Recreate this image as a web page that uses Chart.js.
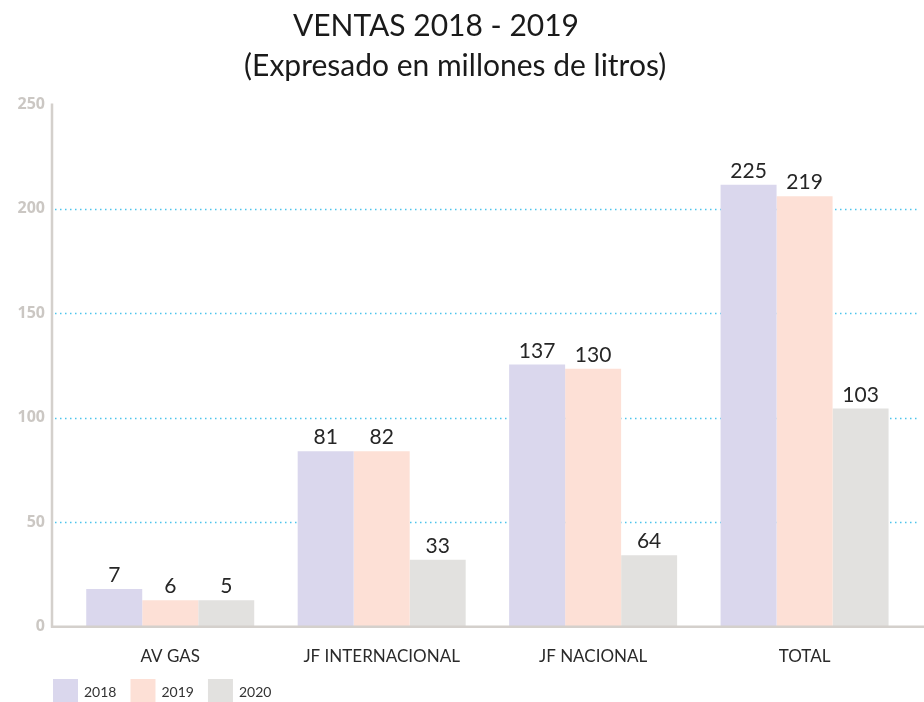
<!DOCTYPE html>
<html>
<head>
<meta charset="utf-8">
<script src="https://cdn.jsdelivr.net/npm/chart.js@4.4.1/dist/chart.umd.min.js"></script>
<style>
  html, body { margin: 0; padding: 0; background: #ffffff; }
  #wrap { width: 924px; height: 702px; }
</style>
</head>
<body>
<div id="wrap"><canvas id="c" width="924" height="702"></canvas></div>
<script>
// ---- data ----
const categories = ['AV GAS', 'JF INTERNACIONAL', 'JF NACIONAL', 'TOTAL'];
const seriesNames = ['2018', '2019', '2020'];
// bar heights as drawn on the value axis
const values2018 = [18, 84, 125.5, 211.5];
const values2019 = [12.7, 84, 123.5, 206];
const values2020 = [12.7, 32, 34.2, 104.4];
// printed value labels above the bars
const labels2018 = ['7', '81', '137', '225'];
const labels2019 = ['6', '82', '130', '219'];
const labels2020 = ['5', '33', '64', '103'];
const yTicks = [0, 50, 100, 150, 200, 250];
const titleLines = ['VENTAS 2018 - 2019     ', '(Expresado en millones de litros)'];

const colors = ['#dad7ed', '#fde0d6', '#e2e1df'];
const FONT = 'Lato, "Open Sans", sans-serif';

const barLabelsPlugin = {
  id: 'barLabels',
  afterDatasetsDraw(chart) {
    const ctx = chart.ctx;
    ctx.save();
    ctx.font = '21px ' + FONT;
    ctx.fillStyle = '#262626';
    ctx.textAlign = 'center';
    ctx.textBaseline = 'alphabetic';
    chart.data.datasets.forEach((ds, di) => {
      const meta = chart.getDatasetMeta(di);
      meta.data.forEach((bar, i) => {
        ctx.fillText(ds.valueLabels[i], bar.x, bar.y - 7);
      });
    });
    ctx.restore();
  }
};

const axesPlugin = {
  id: 'customAxes',
  beforeDatasetsDraw(chart) {
    const ctx = chart.ctx;
    const y = chart.scales.y;
    const axisX = 52;
    ctx.save();
    // dotted grid lines
    ctx.strokeStyle = '#4cc4ec';
    ctx.lineWidth = 1.5;
    ctx.setLineDash([1.5, 3.5]);
    y.ticks.forEach(t => {
      if (t.value === 0 || t.value === 250) return;
      const py = Math.round(y.getPixelForValue(t.value)) + 0.5;
      ctx.beginPath();
      ctx.moveTo(axisX + 3, py);
      ctx.lineTo(919, py);
      ctx.stroke();
    });
    ctx.setLineDash([]);
    ctx.restore();
  },
  afterDatasetsDraw(chart) {
    const ctx = chart.ctx;
    const y = chart.scales.y;
    const axisX = 52;
    ctx.save();
    ctx.strokeStyle = '#d4d0cc';
    ctx.lineWidth = 2.5;
    const top = y.getPixelForValue(250);
    const bottom = y.getPixelForValue(0);
    ctx.beginPath();
    ctx.moveTo(axisX, top - 1);
    ctx.lineTo(axisX, bottom + 1);
    ctx.stroke();
    ctx.beginPath();
    ctx.moveTo(axisX - 1, bottom);
    ctx.lineTo(924, bottom);
    ctx.stroke();
    ctx.restore();
  }
};

const legendPlugin = {
  id: 'customLegend',
  afterDraw(chart) {
    const ctx = chart.ctx;
    ctx.save();
    ctx.font = '14px ' + FONT;
    ctx.textBaseline = 'middle';
    ctx.textAlign = 'left';
    let x = 53;
    const top = 679, h = 24;
    chart.data.datasets.forEach(ds => {
      ctx.fillStyle = ds.backgroundColor;
      ctx.fillRect(x, top, 25, h);
      x += 25 + 6;
      ctx.fillStyle = '#333333';
      ctx.fillText(ds.label, x, top + 13);
      x += ctx.measureText(ds.label).width + 14;
    });
    ctx.restore();
  }
};

const valueSets = [values2018, values2019, values2020];
const labelSets = [labels2018, labels2019, labels2020];

new Chart(document.getElementById('c'), {
  type: 'bar',
  data: {
    labels: categories,
    datasets: seriesNames.map((name, i) => ({
      label: name,
      data: valueSets[i],
      valueLabels: labelSets[i],
      backgroundColor: colors[i],
      borderWidth: 0,
      categoryPercentage: 0.7945,
      barPercentage: 1.0
    }))
  },
  options: {
    responsive: false,
    animation: false,
    devicePixelRatio: 1,
    layout: { padding: { left: 0, right: 13.7, top: 0, bottom: 0 } },
    plugins: {
      legend: { display: false },
      tooltip: { enabled: false },
      title: {
        display: true,
        text: titleLines,
        color: '#1a1a1a',
        font: { family: FONT, size: 30, weight: 'normal', lineHeight: 1.34 },
        padding: { top: 6, bottom: 18 }
      }
    },
    scales: {
      x: {
        grid: { display: false, drawTicks: false },
        border: { display: false },
        ticks: {
          color: '#2a2a2a',
          font: { family: FONT, size: 17 },
          padding: 20,
          maxRotation: 0,
          autoSkip: false
        },
        afterFit(scale) { scale.height = 75.3; }
      },
      y: {
        min: 0,
        max: 250,
        afterBuildTicks(scale) { scale.ticks = yTicks.map(v => ({ value: v })); },
        grid: { display: false, drawTicks: false },
        border: { display: false },
        ticks: {
          color: '#cbc7c3',
          font: { family: '"Open Sans", "DejaVu Sans", sans-serif', size: 16, weight: 'bold' },
          padding: 19.5
        },
        afterFit(scale) { scale.width = 64.5; }
      }
    }
  },
  plugins: [axesPlugin, barLabelsPlugin, legendPlugin]
});
</script>
</body>
</html>
